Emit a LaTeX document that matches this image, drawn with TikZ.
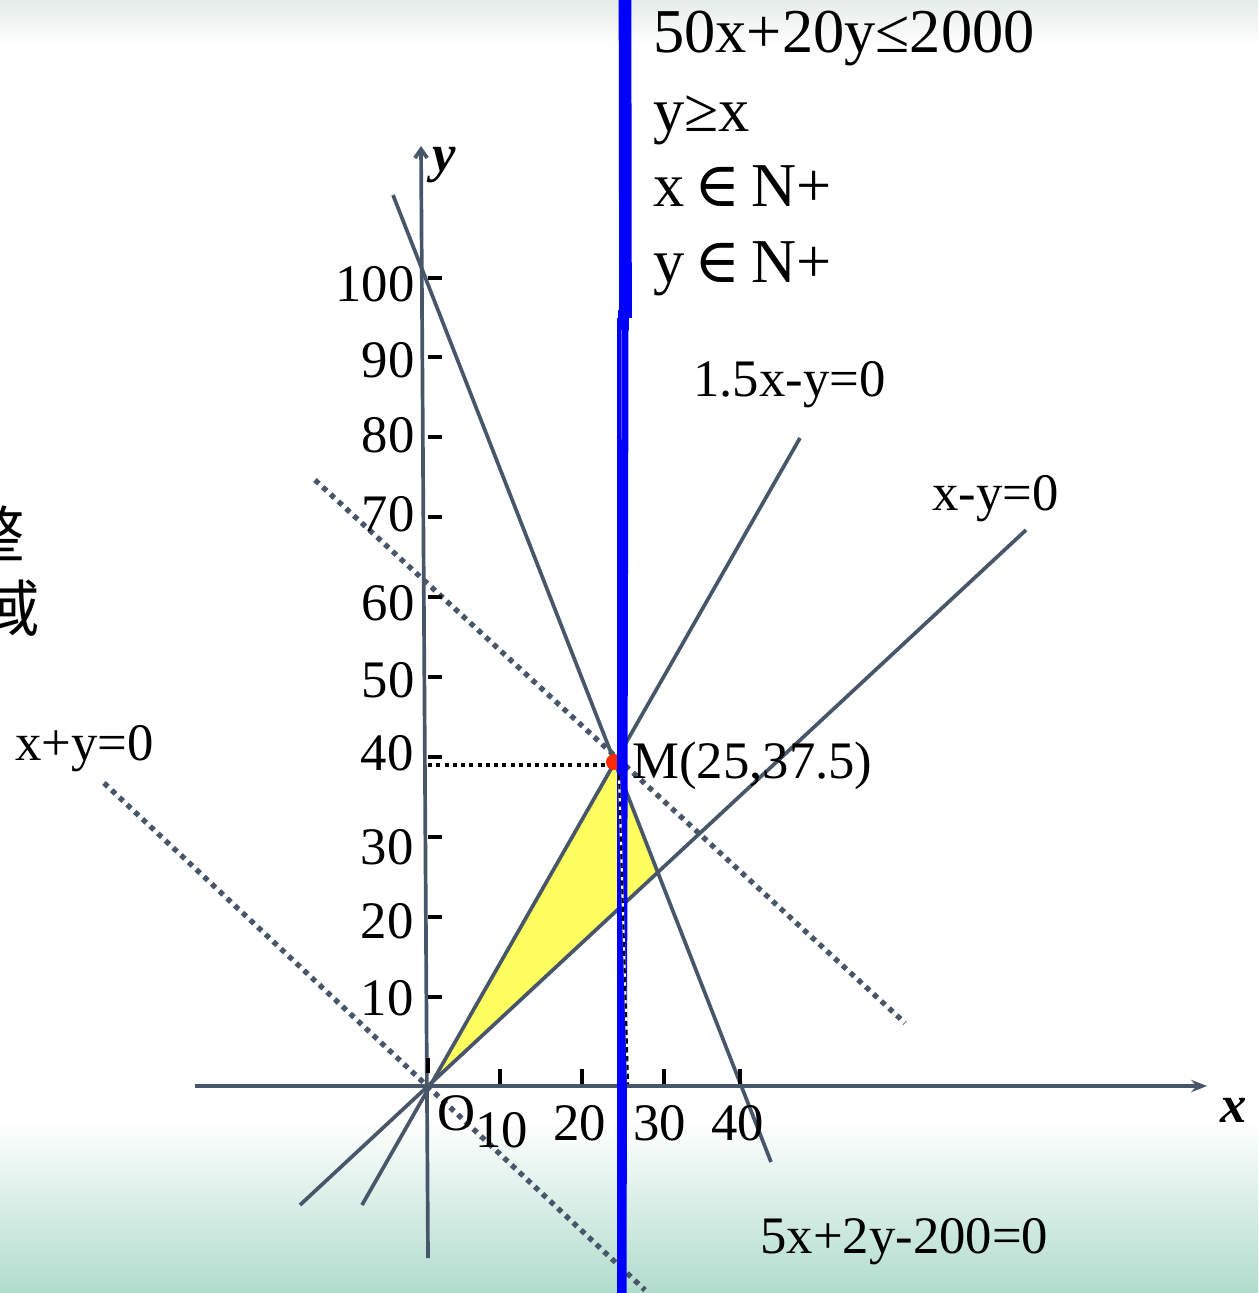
\documentclass[tikz,border=0pt]{standalone}
\usepackage{fontspec}
\setmainfont{Liberation Serif}
\newfontfamily\cjkfont{Noto Sans CJK SC}
\newfontfamily\symfnt{DejaVu Serif}
\usetikzlibrary{arrows.meta}
\definecolor{slate}{RGB}{72,86,106}
\definecolor{bgreen}{RGB}{176,220,204}
\definecolor{tgray}{RGB}{228,236,232}
\definecolor{hiyel}{RGB}{255,255,96}
\definecolor{mred}{RGB}{255,40,0}
\newcommand\bigtxt{\fontsize{35.5pt}{40pt}\selectfont}
\newcommand\midtxt{\fontsize{30pt}{36pt}\selectfont}
\tikzset{
  gline/.style={draw=slate, line width=2.1pt},
  dotline/.style={draw=slate, line width=3pt, dash pattern=on 3pt off 3pt},
  blkdot/.style={draw=black, line width=2.3pt, dash pattern=on 2.3pt off 2.4pt},
  tickm/.style={draw=black, line width=2.3pt},
  lbl/.style={inner sep=0pt, font=\midtxt, text=black},
  big/.style={inner sep=0pt, font=\bigtxt, text=black},
  bluel/.style={draw=blue},
}
\begin{document}
\begin{tikzpicture}[x=0.02cm, y=-0.02cm]
\useasboundingbox (0,0) rectangle (1258,1293);
% background
\fill[white] (0,0) rectangle (1258,1293);
\shade[top color=tgray, bottom color=white] (0,0) rectangle (1258,45);
\shade[top color=white, bottom color=bgreen] (0,1120) rectangle (1258,1293);
% yellow region
\coordinate (O) at (429,1086);
\coordinate (M) at (615,762);
\coordinate (R) at (658,872);
\fill[hiyel] (O) -- (M) -- (R) -- cycle;
% lines
\coordinate (a1) at (393,195); \coordinate (a2) at (771,1162);
\coordinate (b1) at (362,1205); \coordinate (b2) at (800,438);
\coordinate (c1) at (300,1205); \coordinate (c2) at (1026,530);
\draw[gline] (a1) -- (a2);
\draw[gline] (b1) -- (b2);
\draw[gline] (c1) -- (c2);
% dotted lines
\coordinate (d1) at (104,783); \coordinate (d2) at (645,1290);
\coordinate (e1) at (315,480); \coordinate (e2) at (905,1023);
\draw[dotline] (d1) -- (d2);
\draw[dotline] (e1) -- (e2);
% axes
\coordinate (xs) at (195,1086); \coordinate (xe) at (1207,1086);
\coordinate (ys) at (428,1258); \coordinate (ye) at (421,146);
\draw[gline, -{Stealth[length=9pt,width=7pt,inset=3pt]}] (xs) -- (xe);
\draw[gline, -{Straight Barb[length=5pt,width=7pt]}] (ys) -- (ye);
% y ticks
\foreach \yy in {278,357,437,517,597,677,757,837,917,997}
  \draw[tickm] (428,\yy) -- (442,\yy);
\draw[tickm] (428,1058) -- (428,1073);
% x ticks
\foreach \xx in {500,582,664,740}
  \draw[tickm] (\xx,1069) -- (\xx,1084);
% black dotted guide
\coordinate (g1) at (428,765); \coordinate (g2) at (612,765);
\draw[blkdot] (g1) -- (g2);
% red point M
\fill[mred] (614,762) circle (8);
% blue lines
\draw[bluel, line width=2.4pt] (619,318) -- (619,1293);
\draw[bluel, line width=4pt] (625,318) -- (623,1293);
\draw[bluel, line width=7.2pt] (625,0) -- (625.5,318);
\draw[bluel, line width=6pt] (623.5,310) -- (623.5,330);
% vertical dashed guide
\coordinate (v1) at (619,775); \coordinate (v2) at (628,1084);
\draw[white, line width=1.2pt] (v1) -- (v2);
\draw[black, line width=1.2pt, dash pattern=on 3pt off 2pt] (v1) -- (v2);
% top text
\node[big, anchor=base west] (t1) at (653,53) {50x+20y≤2000};
\node[big, anchor=base west] (t2) at (653,132) {y≥x};
\node[big, anchor=base west] (t3) at (653,207) {x\,{\symfnt ∈}\,N+};
\node[big, anchor=base west] (t4) at (653,283) {y\,{\symfnt ∈}\,N+};
% line labels
\node[lbl, anchor=base west] (l1) at (693,397) {1.5x-y=0};
\node[lbl, anchor=base west] (l2) at (932,510) {x-y=0};
\node[lbl, anchor=base west] (l3) at (15,760) {x+y=0};
\node[lbl, anchor=base west] (l4) at (760,1253) {5x+2y-200=0};
\node[lbl, anchor=base west] (lm) at (632,778) {M(25,37.5)};
% y tick labels
\node[lbl, anchor=base east] (y100) at (415,302) {100};
\node[lbl, anchor=base east] (y90) at (415,378) {90};
\node[lbl, anchor=base east] (y80) at (415,453) {80};
\node[lbl, anchor=base east] (y70) at (415,531) {70};
\node[lbl, anchor=base east] (y60) at (415,620) {60};
\node[lbl, anchor=base east] (y50) at (415,697) {50};
\node[lbl, anchor=base east] (y40) at (414,770) {40};
\node[lbl, anchor=base east] (y30) at (414,864) {30};
\node[lbl, anchor=base east] (y20) at (414,938) {20};
\node[lbl, anchor=base east] (y10) at (414,1015) {10};
% x tick labels
\node[lbl, anchor=base west] (oo) at (437,1130) {O};
\node[lbl, anchor=base west] (x10) at (475,1147) {10};
\node[lbl, anchor=base west] (x20) at (553,1140) {20};
\node[lbl, anchor=base west] (x30) at (633,1140) {30};
\node[lbl, anchor=base west] (x40) at (711,1140) {40};
% axis names
\node[lbl, anchor=base west, font=\midtxt\bfseries\itshape] (ny) at (432,172) {y};
\node[lbl, anchor=base west, font=\midtxt\bfseries\itshape] (nx) at (1220,1122) {x};
% partial CJK at left edge (cut off in the reference too)
\node[inner sep=0pt, anchor=east, font=\fontsize{35pt}{40pt}\cjkfont] (c1n) at (25,533) {整};
\node[inner sep=0pt, anchor=east, font=\fontsize{35pt}{40pt}\cjkfont] (c2n) at (40,608) {域};
\end{tikzpicture}
\end{document}
